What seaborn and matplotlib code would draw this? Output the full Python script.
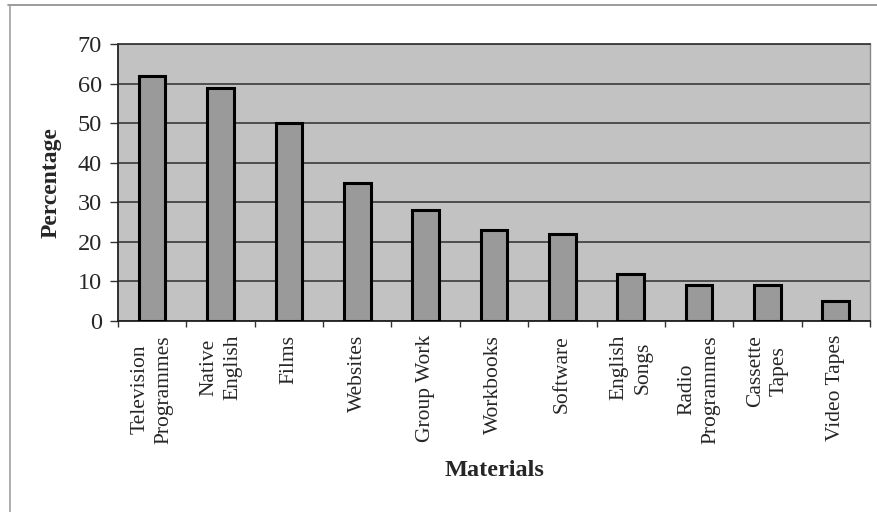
import matplotlib
matplotlib.use("Agg")
import matplotlib.pyplot as plt
from matplotlib.lines import Line2D
from matplotlib.ticker import FixedLocator
import seaborn as sns
import numpy as np

materials = ['Television\nProgrammes', 'Native\nEnglish', 'Films', 'Websites',
             'Group Work', 'Workbooks', 'Software', 'English\nSongs',
             'Radio\nProgrammes', 'Cassette\nTapes', 'Video Tapes']
percentages = [62, 59, 50, 35, 28, 23, 22, 12, 9, 9, 5]
y_ticks = [0, 10, 20, 30, 40, 50, 60, 70]

sns.set_style("white")
plt.rcParams['font.family'] = ['Liberation Serif', 'DejaVu Serif']

fig = plt.figure(figsize=(8.77, 5.12), dpi=100)
ax = fig.add_axes([0.1345, 0.373, 0.8575, 0.541])
ax.set_facecolor('#c2c2c2')

sns.barplot(x=materials, y=percentages, color='#9a9a9a', saturation=1,
            edgecolor='black', linewidth=2.2, width=0.39, ax=ax, zorder=3)

ax.set_ylim(0, 70)
ax.set_xlim(-0.5, len(materials) - 0.5)
ax.set_yticks(y_ticks)
ax.yaxis.grid(True, color='#3a3a3a', linewidth=1.2, zorder=1)
ax.set_axisbelow(True)

ax.tick_params(axis='y', labelsize=17.5, length=5.5, width=1, color='#333333',
               pad=6, left=True, direction='out')
ax.tick_params(axis='x', which='major', labelsize=15.5, length=0, pad=10,
               labelrotation=90)
ax.xaxis.set_minor_locator(FixedLocator(np.arange(-0.5, len(materials), 1)))
ax.tick_params(axis='x', which='minor', length=4, width=1, color='#333333',
               bottom=True, direction='out')
for lab in ax.get_xticklabels():
    lab.set_multialignment('center')
    lab.set_linespacing(1.35)

for side in ['left', 'bottom']:
    ax.spines[side].set_color('#222222')
    ax.spines[side].set_linewidth(1.3)
ax.spines['top'].set_color('#3a3a3a')
ax.spines['top'].set_linewidth(1.3)
ax.spines['right'].set_color('#888888')
ax.spines['right'].set_linewidth(1)

ax.set_ylabel('Percentage', fontsize=17, fontweight='bold')
ax.yaxis.label.set_va('center')
ax.yaxis.set_label_coords(-0.089, 0.5)
ax.set_xlabel('Materials', fontsize=17.5, fontweight='bold')
ax.xaxis.label.set_va('center')
ax.xaxis.set_label_coords(0.5, -0.54)

# outer chart frame
fig.add_artist(Line2D([8 / 877, 1], [1 - 5 / 512, 1 - 5 / 512],
                      transform=fig.transFigure, color='#8a8a8a', linewidth=1.2))
fig.add_artist(Line2D([10 / 877, 10 / 877], [0, 1 - 5 / 512],
                      transform=fig.transFigure, color='#a0a0a0', linewidth=1.2))

fig.savefig('out.png', dpi=100)
plt.close(fig)
